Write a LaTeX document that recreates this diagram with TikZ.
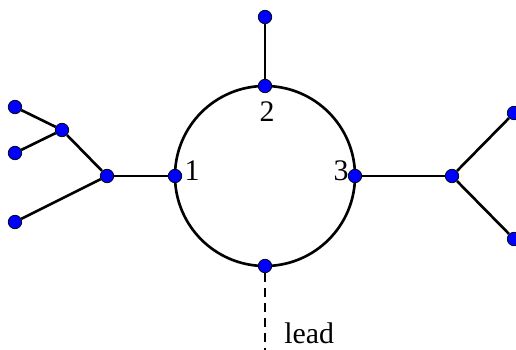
\documentclass[tikz,border=0pt]{standalone}
\usepackage{fontspec}
\setmainfont{Liberation Serif}
\usepackage{tikz}
\usetikzlibrary{positioning,calc}
\tikzset{
  dot/.style={circle,draw=black,fill=blue,line width=0.4pt,inner sep=0pt,minimum size=0.27cm},
  lbl/.style={inner sep=0pt,font=\fontsize{17}{20}\selectfont},
  wire/.style={line width=1.5pt,black}
}
\begin{document}
\begin{tikzpicture}[x=0.02cm,y=-0.02cm]
  \useasboundingbox (0,0) rectangle (516,350);
  % ring
  \draw[wire] (265,176) circle[radius=90];
  \node[dot] (c1) at (175,176) {};
  \node[dot] (c2) at (265,86) {};
  \node[dot] (c3) at (355,176) {};
  \node[dot] (c4) at (265,266) {};
  \node[lbl] (l1) at (192,171) {1};
  \node[lbl] (l2) at (267,112) {2};
  \node[lbl] (l3) at (341,171) {3};
  % top stem
  \node[dot] (top) at (265,17) {};
  \draw[wire] (top)--(c2);
  % left tree
  \node[dot] (ja) at (107,176) {};
  \node[dot] (jb) at (62,130) {};
  \node[dot] (la) at (15,107) {};
  \node[dot] (lb) at (15,153) {};
  \node[dot] (lc) at (15,222) {};
  \draw[wire] (c1)--(ja);
  \draw[wire] (ja)--(jb);
  \draw[wire] (jb)--(la);
  \draw[wire] (jb)--(lb);
  \draw[wire] (ja)--(lc);
  % right tree
  \node[dot] (jr) at (452,176) {};
  \node[dot] (ra) at (514,113) {};
  \node[dot] (rb) at (514,239) {};
  \draw[wire] (c3)--(jr);
  \draw[wire] (jr)--(ra);
  \draw[wire] (jr)--(rb);
  % lead
  \coordinate (leadend) at (265,352);
  \draw[wire,dash pattern=on 0.18cm off 0.12cm] (c4)--(leadend);
  \node[lbl,anchor=base west] (lead) at (284,343) {lead};
\end{tikzpicture}
\end{document}
